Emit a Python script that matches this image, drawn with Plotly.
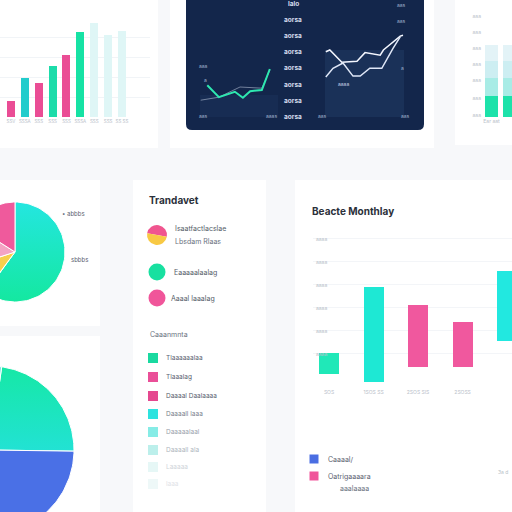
import numpy as np
import plotly.graph_objects as go

W = H = 512
def PX(x): return x / W
def PY(y): return 1 - y / H

FONT = "Inter, Roboto, sans-serif"

# ---------------- data ----------------
# top-left bar chart
tl_labels = ["SSV", "SSSA", "SSS", "SSS", "SSS", "SSSA", "SSS", "SSS", "SS SS"]
tl_values = [16, 39, 34, 51, 62, 85, 94, 82, 86]
tl_colors = ["#ea4d95", "#22cccc", "#ea4d95", "#1cdcaa", "#ea4d95", "#16e2a4",
             "#dff6f6", "#dff6f6", "#dff6f6"]

# dark panel, left line chart
dl_x = [1.0, 2.6, 4.8, 5.9, 6.9, 8.5, 9.6]
dl_green = [53, 33, 42, 32, 43, 45, 80]
dl_wx = [0.1, 2.6, 5.5, 8.5, 9.6]
dl_white = [28, 33, 50, 48, 78]

# dark panel, right line chart
dr_xa = [0.1, 0.6, 2.1, 4.0, 5.0, 6.9, 7.3, 9.4, 9.75]
dr_a = [75, 77, 63, 64, 74, 71, 77, 93, 94]
dr_xb = [0.1, 1.0, 2.25, 3.5, 4.4, 5.6, 7.1, 8.5, 9.4]
dr_b = [46, 56, 62, 47, 47, 56, 56, 79, 92]
dark_labels = ["lalo", "aorsa", "aorsa", "aorsa", "aorsa", "aorsa", "aorsa", "aorsa"]

# top-right stacked bars
tr_cats = ["Ear aat", "a.T"]
tr_segments = [[21, 21], [18, 18], [17, 17], [16, 16]]
tr_colors = ["#1de2aa", "#a8ece6", "#cdeef2", "#e3f3f7"]
tr_ticks = ["aaa", "aaa", "aaa", "aaa", "aaa", "aaa", "aaa", "aaa"]

# middle pie
mp_values = [60, 10, 14, 16]
mp_colors = ["teal_up", "#f6cf4c", "#f3a3c3", "#ef5a9c"]
mp_labels = ["• abbbs", "sbbbs"]

# bottom pie
bp_values = [23, 38, 20, 19]
bp_colors = ["teal_down", "#4a70e6", "#6f86ee", "#7ae6e0"]

# legend card
lg_title = "Trandavet"
lg_icon_values = [50, 50]
lg_icon_colors = ["#f0558f", "#f8c944"]
lg_circle_colors = ["#18e0a0", "#f0559a"]
lg_circle_labels = ["Eaaaaalaalag", "Aaaal laaalag"]
lg_sub = "Caaanmnta"
lg_sq_colors = ["#1ad9a0", "#ea4f98", "#e5488f", "#2ee3df", "#86ece6", "#bcefeb",
                "#e6f7f6", "#eef8f8"]
lg_sq_labels = ["Tlaaaaaalaa", "Tlaaalag", "Daaaal Daalaaaa", "Daaaall laaa",
                "Daaaaalaal", "Daaaall ala", "Laaaaa", "laaa"]

# bar chart card (floating bars)
bc_title = "Beacte Monthlay"
bc_cats = ["SOS", "1SOS SS", "2SOS SIS", "2SOSS", ""]
bc_base = [115, 80, 145, 145, 255]
bc_top = [205, 490, 415, 340, 560]
bc_colors = ["#20e8b8", "#1ee8d4", "#f0589e", "#f0589e", "#22e8e0"]
bc_ticks = ["aaaa", "aaaa", "aaaa", "aaaa", "aaaa", "aaaa"]
bc_leg_colors = ["#4a6ee2", "#f0559a"]
bc_leg_labels = ["Caaaal/", "Oatrigaaaara"]

fig = go.Figure()

# ---------------- canvas axis (pies, legend glyphs) ----------------
GRADS = {
    "teal_up": [[0, "#14e8a0"], [1, "#24e6e0"]],
    "teal_down": [[0, "#22e2d4"], [1, "#16e8a6"]],
}

def wedges(values, colors, cx, cy, r, start):
    total = sum(values)
    a0 = start
    for v, c in zip(values, colors):
        a1 = a0 + 360 * v / total
        th = np.radians(np.linspace(a0, a1, 80))
        xs = np.concatenate([[cx], cx + r * np.sin(th), [cx]])
        ys = np.concatenate([[cy], cy - r * np.cos(th), [cy]])
        kw = {}
        if c in GRADS:
            kw["fillgradient"] = dict(type="vertical", colorscale=GRADS[c])
            c = "#1ae6c0"
        fig.add_trace(go.Scatter(x=xs, y=ys, fill="toself", fillcolor=c, mode="lines",
                                 line=dict(color="white", width=1), hoverinfo="skip",
                                 xaxis="x", yaxis="y", **kw))
        a0 = a1

wedges(mp_values, mp_colors, 15, 252, 50, 0)
wedges(bp_values, bp_colors, -10, 450, 84, 8)

fig.add_trace(go.Scatter(x=[157, 157], y=[272, 298], mode="markers",
                         marker=dict(size=17, color=lg_circle_colors), hoverinfo="skip",
                         xaxis="x", yaxis="y"))
fig.add_trace(go.Scatter(x=[153] * len(lg_sq_colors),
                         y=[358, 377, 396, 414, 432, 450, 467, 484], mode="markers",
                         marker=dict(size=10, symbol="square", color=lg_sq_colors),
                         hoverinfo="skip", xaxis="x", yaxis="y"))
fig.add_trace(go.Scatter(x=[314, 314], y=[459, 476], mode="markers",
                         marker=dict(size=9, symbol="square", color=bc_leg_colors),
                         hoverinfo="skip", xaxis="x", yaxis="y"))

fig.add_trace(go.Pie(values=lg_icon_values, marker=dict(colors=lg_icon_colors,
                     line=dict(width=0)), textinfo="none", sort=False, rotation=-80,
                     direction="clockwise", hoverinfo="skip",
                     domain=dict(x=[PX(147), PX(167)], y=[PY(245), PY(225)])))

# ---------------- top-left bar chart ----------------
fig.add_trace(go.Bar(x=list(range(len(tl_values))), y=tl_values,
                     marker=dict(color=tl_colors, line=dict(width=0)),
                     width=0.58, xaxis="x2", yaxis="y2", hoverinfo="skip"))

# ---------------- dark panel charts ----------------
fig.add_trace(go.Scatter(x=dl_wx, y=dl_white, mode="lines",
                         line=dict(color="rgba(230,240,255,0.45)", width=1),
                         xaxis="x3", yaxis="y3", hoverinfo="skip"))
fig.add_trace(go.Scatter(x=dl_x, y=dl_green, mode="lines",
                         line=dict(color="#2ee8b0", width=2),
                         xaxis="x3", yaxis="y3", hoverinfo="skip"))
fig.add_trace(go.Scatter(x=dr_xa, y=dr_a, mode="lines",
                         line=dict(color="#f4f7ff", width=1.5),
                         xaxis="x4", yaxis="y4", hoverinfo="skip"))
fig.add_trace(go.Scatter(x=dr_xb, y=dr_b, mode="lines",
                         line=dict(color="#dfe7f7", width=1.5),
                         xaxis="x4", yaxis="y4", hoverinfo="skip"))

# ---------------- top-right stacked bars ----------------
for seg, col in zip(tr_segments, tr_colors):
    fig.add_trace(go.Bar(x=[0, 1], y=seg, marker=dict(color=col, line=dict(width=0)),
                         width=0.72, xaxis="x5", yaxis="y5", hoverinfo="skip"))

# ---------------- bar chart card ----------------
fig.add_trace(go.Bar(x=list(range(len(bc_base))),
                     y=[t - b for t, b in zip(bc_top, bc_base)], base=bc_base,
                     marker=dict(color=bc_colors, line=dict(width=0)), width=0.45,
                     xaxis="x6", yaxis="y6", hoverinfo="skip"))

# ---------------- shapes ----------------
shapes = []
def card(x0, y0, x1, y1, color="#ffffff"):
    shapes.append(dict(type="rect", xref="paper", yref="paper", layer="below",
                       x0=PX(x0), x1=PX(x1), y0=PY(y1), y1=PY(y0),
                       fillcolor=color, line=dict(width=0)))

card(0, 0, 158, 148)
card(170, 0, 434, 148)
card(455, 0, 512, 145)
card(0, 180, 100, 326)
card(133, 180, 266, 512)
card(295, 180, 512, 512)
card(0, 336, 100, 512)

def p(x, y): return f"{PX(x)},{PY(y)}"
path = (f"M{p(186,-2)} L{p(424,-2)} L{p(424,124)} Q{p(424,130)} {p(418,130)} "
        f"L{p(192,130)} Q{p(186,130)} {p(186,124)} Z")
shapes.append(dict(type="path", xref="paper", yref="paper", layer="below", path=path,
                   fillcolor="#13264b", line=dict(width=0)))
card(325, 50, 404, 117, "#1a3158")
card(200, 95, 278, 117, "#172c53")

# ---------------- annotations ----------------
ann = []
def txt(x, y, s, size=6, color="#b7bfc8", anchor="left", bold=False):
    ann.append(dict(x=PX(x), y=PY(y), xref="paper", yref="paper", showarrow=False,
                    text=f"<b>{s}</b>" if bold else s, xanchor=anchor, yanchor="middle",
                    font=dict(size=size, color=color, family=FONT)))

# dark panel
for i, s in enumerate(dark_labels):
    txt(293, 4 + i * 16.1, s, 6.5, "#d6deef", "center", True)
txt(401, 5, "aas", 5, "#9fb0cc", "center")
txt(401, 21, "aas", 5, "#9fb0cc", "center")
txt(203, 66, "aaa", 5, "#9fb0cc", "center")
txt(205, 80, "a", 5, "#9fb0cc", "center")
txt(203, 116, "aas", 5, "#9fb0cc", "center")
txt(271, 116, "aaas", 5, "#9fb0cc", "center")
txt(322, 116, "aas", 5, "#9fb0cc", "center")
txt(405, 116, "aas", 5, "#9fb0cc", "center")
txt(343, 84, "aaaa", 5, "#c8d2e6", "center")
txt(402, 68, "a", 5, "#9fb0cc", "center")

# middle pie labels
txt(60, 213, mp_labels[0], 6, "#5a6270")
txt(69, 259, mp_labels[1], 6, "#5a6270")

# legend card
txt(147, 200, lg_title, 10, "#2b303a", bold=True)
txt(173, 228, "Isaatfactlacslae", 7, "#545c68")
txt(173, 241, "Lbsdam Rlaas", 7, "#6a7280")
txt(172, 272, lg_circle_labels[0], 7, "#545c68")
txt(169, 298, lg_circle_labels[1], 7, "#545c68")
txt(148, 334, lg_sub, 7, "#6a7280")
sq_text_cols = ["#5a6270", "#5a6270", "#5a6270", "#7a828e", "#9aa2ac", "#b0b7c0",
                "#d0d5da", "#dfe3e7"]
for i, (s, c) in enumerate(zip(lg_sq_labels, sq_text_cols)):
    txt(164, [358, 377, 396, 414, 432, 450, 467, 484][i], s, 6.5, c)

# bar chart card
txt(310, 211, bc_title, 10, "#2b303a", bold=True)
txt(326, 459, bc_leg_labels[0], 7, "#5a6270")
txt(326, 476, bc_leg_labels[1], 7, "#5a6270")
txt(338, 488, "aaalaaaa", 7, "#6a7280")
txt(510, 472, "3a d", 5, "#b7bfc8", "right")

ax_common = dict(showline=False, zeroline=False, fixedrange=True)
tickf = dict(size=5, color="#b9c1ca", family=FONT)

fig.update_layout(
    width=512, height=512, margin=dict(l=0, r=0, t=0, b=0),
    paper_bgcolor="#f7f8fa", plot_bgcolor="rgba(0,0,0,0)",
    showlegend=False, barmode="stack", shapes=shapes, annotations=ann,
    font=dict(family=FONT),
    xaxis=dict(domain=[0, 1], range=[0, 512], visible=False, **ax_common),
    yaxis=dict(domain=[0, 1], range=[512, 0], visible=False, **ax_common),
    xaxis2=dict(domain=[0, PX(150)], range=[-0.79, 10.02], anchor="y2",
                tickvals=list(range(len(tl_labels))), ticktext=tl_labels,
                tickangle=0, tickfont=dict(size=4.5, color="#b9c1ca", family=FONT),
                showgrid=False, ticks="", **ax_common),
    yaxis2=dict(domain=[PY(117), PY(17)], range=[0, 100], anchor="x2",
                showticklabels=False, showgrid=True, gridcolor="#f1f4f7",
                dtick=20, ticks="", **ax_common),
    xaxis3=dict(domain=[PX(200), PX(280)], range=[0, 11], anchor="y3", visible=False,
                **ax_common),
    yaxis3=dict(domain=[PY(117), PY(57)], range=[0, 100], anchor="x3", visible=False,
                **ax_common),
    xaxis4=dict(domain=[PX(325), PX(405)], range=[0, 10], anchor="y4", visible=False,
                **ax_common),
    yaxis4=dict(domain=[PY(117), PY(30)], range=[0, 100], anchor="x4", visible=False,
                **ax_common),
    xaxis5=dict(domain=[PX(482), 1], range=[-0.53, 1.14], anchor="y5",
                tickvals=[0, 1], ticktext=tr_cats, tickfont=tickf, tickangle=0,
                showgrid=False, ticks="", **ax_common),
    yaxis5=dict(domain=[PY(117), 1], range=[0, 117], anchor="x5",
                tickvals=[2, 19, 37, 53, 69, 85, 101, 117], ticktext=tr_ticks,
                tickfont=tickf, showgrid=False, ticks="", **ax_common),
    xaxis6=dict(domain=[PX(313), 1], range=[-0.36, 4.11], anchor="y6",
                tickvals=list(range(len(bc_cats))), ticktext=bc_cats, tickfont=tickf,
                tickangle=0, showgrid=False, ticks="", **ax_common),
    yaxis6=dict(domain=[PY(388), PY(216)], range=[52, 800], anchor="x6",
                tickvals=[200, 300, 400, 500, 600, 700], ticktext=bc_ticks,
                ticklabelposition="inside", tickfont=tickf, showgrid=True,
                gridcolor="#f3f5f8", ticks="", **ax_common),
)

fig.write_html("out.html")
